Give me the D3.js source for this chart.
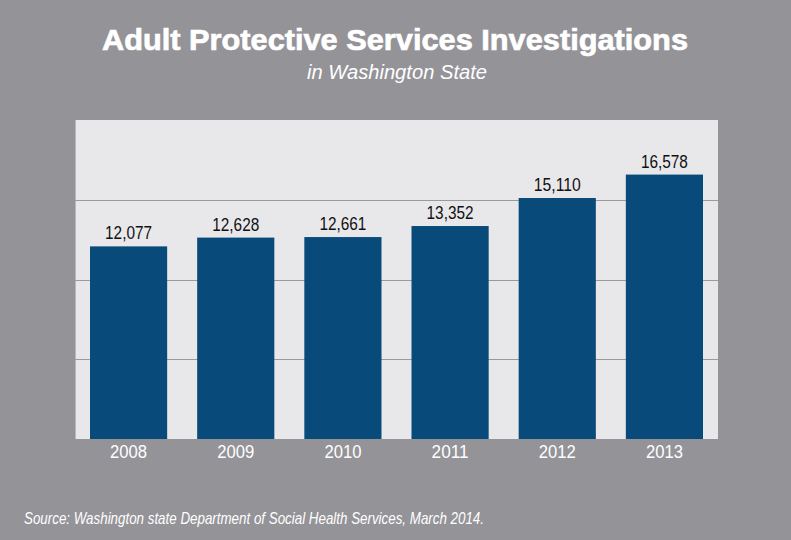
<!DOCTYPE html>
<html>
<head>
<meta charset="utf-8">
<script src="https://cdn.jsdelivr.net/npm/d3@7"></script>
<style>
  body { margin: 0; background: #949398; }
  svg { display: block; }
</style>
</head>
<body>
<svg id="chart" width="791" height="540"></svg>
<script>
"use strict";

const years = ["2008", "2009", "2010", "2011", "2012", "2013"];
const investigations = [12077, 12628, 12661, 13352, 15110, 16578];
const gridValues = [5000, 10000, 15000];

const width = 791;
const height = 540;
const plot = { left: 75, right: 718, top: 120, bottom: 439 };

const svg = d3.select("#chart");
const font = "'Liberation Sans', Arial, sans-serif";

svg.append("rect")
    .attr("width", width).attr("height", height)
    .attr("fill", "#949398");

const x = d3.scaleBand()
    .domain(years)
    .range([plot.left, plot.right])
    .paddingInner(0.28)
    .paddingOuter(0.14);

const y = d3.scaleLinear()
    .domain([0, 20000])
    .range([plot.bottom, plot.top]);

// plot panel
svg.append("rect")
    .attr("x", plot.left).attr("y", plot.top)
    .attr("width", plot.right - plot.left)
    .attr("height", plot.bottom - plot.top)
    .attr("fill", "#e8e8eb");

svg.append("line")
    .attr("x1", plot.left + 0.5).attr("x2", plot.left + 0.5)
    .attr("y1", plot.top).attr("y2", plot.bottom)
    .attr("stroke", "#b9b9bd").attr("stroke-width", 1);

// gridlines
svg.append("g")
    .selectAll("line")
    .data(gridValues)
    .join("line")
    .attr("x1", plot.left).attr("x2", plot.right)
    .attr("y1", d => Math.round(y(d)) + 0.5)
    .attr("y2", d => Math.round(y(d)) + 0.5)
    .attr("stroke", "#9a9a9e").attr("stroke-width", 1.2);

// bars
svg.append("g")
    .selectAll("rect")
    .data(investigations)
    .join("rect")
    .attr("x", (d, i) => x(years[i]))
    .attr("y", d => y(d))
    .attr("width", x.bandwidth())
    .attr("height", d => y(0) - y(d))
    .attr("fill", "#084a79");

// value labels (narrow, like the condensed face of the original)
svg.append("g")
    .selectAll("text")
    .data(investigations)
    .join("text")
    .attr("x", (d, i) => x(years[i]) + x.bandwidth() / 2)
    .attr("y", d => y(d) - 7)
    .attr("text-anchor", "middle")
    .attr("textLength", 47).attr("lengthAdjust", "spacingAndGlyphs")
    .style("font-family", font)
    .style("font-size", "18px")
    .style("fill", "#111")
    .text(d => d3.format(",")(d));

// x axis labels
const xAxis = svg.append("g")
    .attr("transform", `translate(0,${plot.bottom})`)
    .call(d3.axisBottom(x).tickSize(0).tickPadding(6));
xAxis.select(".domain").remove();
xAxis.selectAll("text")
    .attr("dy", "0.71em")
    .attr("textLength", 37).attr("lengthAdjust", "spacingAndGlyphs")
    .style("font-family", font)
    .style("font-size", "18px")
    .style("fill", "#fff");

// titles
svg.append("text")
    .attr("x", 395).attr("y", 50)
    .attr("text-anchor", "middle")
    .attr("textLength", 586).attr("lengthAdjust", "spacingAndGlyphs")
    .style("font-family", font)
    .style("font-weight", "bold")
    .style("font-size", "29px")
    .style("fill", "#fff")
    .style("stroke", "#fff")
    .style("stroke-width", 0.7)
    .text("Adult Protective Services Investigations");

svg.append("text")
    .attr("x", 397).attr("y", 79)
    .attr("text-anchor", "middle")
    .attr("textLength", 180).attr("lengthAdjust", "spacingAndGlyphs")
    .style("font-family", font)
    .style("font-style", "italic")
    .style("font-size", "20px")
    .style("fill", "#fff")
    .text("in Washington State");

svg.append("text")
    .attr("x", 24).attr("y", 524)
    .attr("textLength", 460).attr("lengthAdjust", "spacingAndGlyphs")
    .style("font-family", font)
    .style("font-style", "italic")
    .style("font-size", "17px")
    .style("fill", "#fff")
    .text("Source: Washington state Department of Social Health Services, March 2014.");
</script>
</body>
</html>
